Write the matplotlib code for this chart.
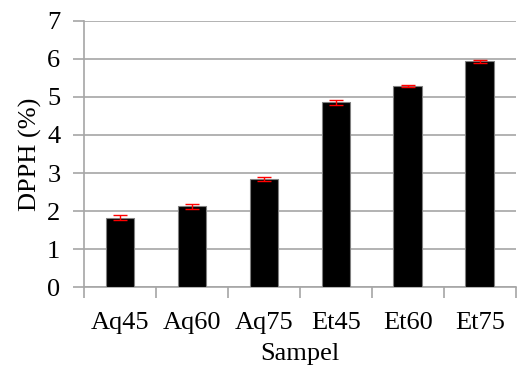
import matplotlib
matplotlib.use("Agg")
import matplotlib.pyplot as plt
import numpy as np

categories = ["Aq45", "Aq60", "Aq75", "Et45", "Et60", "Et75"]
values = [1.83, 2.13, 2.84, 4.86, 5.29, 5.93]
errors = [0.06, 0.065, 0.045, 0.07, 0.025, 0.04]
yticks = [0, 1, 2, 3, 4, 5, 6, 7]

plt.rcParams['font.family'] = ['Liberation Serif', 'DejaVu Serif']

fig = plt.figure(figsize=(5.2, 3.65), dpi=100)
ax = fig.add_axes([0.1615, 0.2129, 0.8305, 0.7305])

x = np.arange(len(categories))
ax.bar(x, values, width=0.4, color='black', edgecolor='#808080', linewidth=0.8, zorder=3)
ax.errorbar(x, values, yerr=errors, fmt='none', ecolor='red', elinewidth=1, capsize=5, capthick=1, zorder=4)

ax.set_xlim(-0.5, len(categories) - 0.5)
ax.set_ylim(0, 7)
ax.set_yticks(yticks)
ax.set_yticklabels([str(t) for t in yticks], fontsize=19)
ax.yaxis.grid(True, color='#a6a6a6', linewidth=1.2, zorder=0)
ax.set_axisbelow(True)

ax.set_xticks(x)
ax.set_xticklabels(categories, fontsize=19)
ax.tick_params(axis='x', length=0, pad=18)
ax.set_xticks(np.arange(-0.5, len(categories)), minor=True)
ax.tick_params(axis='x', which='minor', length=8, color='#a6a6a6', width=1.2)
ax.tick_params(axis='y', length=8, color='#a6a6a6', width=1.2, pad=9)

for s in ['top', 'right']:
    ax.spines[s].set_visible(False)
for s in ['left', 'bottom']:
    ax.spines[s].set_color('#a6a6a6')
    ax.spines[s].set_linewidth(1.2)

ax.set_ylabel("DPPH (%)", fontsize=19, labelpad=4)
ax.set_xlabel("Sampel", fontsize=19, labelpad=6)

fig.savefig("out.png", dpi=100)
